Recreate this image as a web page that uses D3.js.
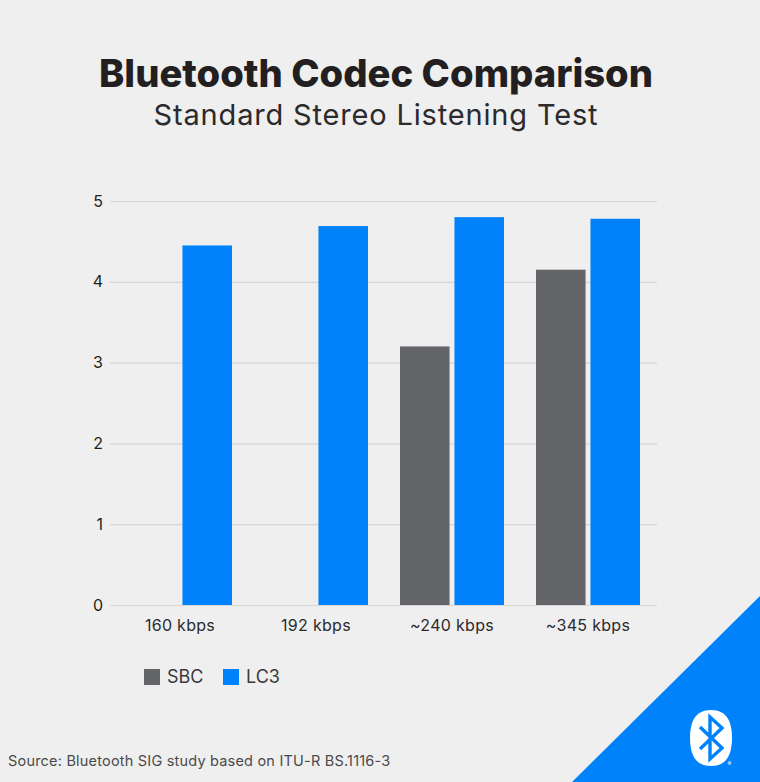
<!DOCTYPE html>
<html>
<head>
<meta charset="utf-8">
<script src="https://cdn.jsdelivr.net/npm/d3@7"></script>
<style>
  html, body { margin: 0; padding: 0; background: #efefef; }
  svg { display: block; }
</style>
</head>
<body>
<div id="chart"></div>
<script>
// values
var categories = ["160 kbps", "192 kbps", "~240 kbps", "~345 kbps"];
var seriesNames = ["SBC", "LC3"];
var sbcValues = [null, null, 3.2, 4.15];
var lc3Values = [4.45, 4.69, 4.8, 4.78];
var yTicks = [0, 1, 2, 3, 4, 5];

var width = 760, height = 782,
  plotLeft = 110, plotRight = 657, plotTop = 201, plotBottom = 605,
  fontFamily = "Inter, Lato, sans-serif",
  colors = { SBC: "#646569", LC3: "#0082fc" };

var svg = d3.select("#chart").append("svg")
  .attr("width", width).attr("height", height);

svg.append("rect")
  .attr("width", width).attr("height", height)
  .attr("fill", "#efefef");

// titles
svg.append("text")
  .attr("x", 376).attr("y", 87)
  .attr("text-anchor", "middle")
  .attr("font-family", fontFamily).attr("font-weight", 800)
  .attr("font-size", 38.2).attr("fill", "#231f20")
  .text("Bluetooth Codec Comparison");

svg.append("text")
  .attr("x", 376).attr("y", 125)
  .attr("text-anchor", "middle")
  .attr("font-family", fontFamily).attr("font-weight", 400)
  .attr("font-size", 29).attr("letter-spacing", 0.83).attr("fill", "#2b2a2c")
  .text("Standard Stereo Listening Test");

// scales
var x = d3.scaleBand().domain(categories).range([112, 656]);
var xInner = d3.scaleBand().domain(seriesNames)
  .range([x.bandwidth() / 2 - 52, x.bandwidth() / 2 + 52])
  .paddingInner(0.09).paddingOuter(0);
var y = d3.scaleLinear().domain([0, 5]).range([plotBottom, plotTop]);

// y axis + gridlines
var yAxis = svg.append("g")
  .attr("transform", "translate(" + plotLeft + ",0)")
  .call(d3.axisLeft(y).tickValues(yTicks).tickSize(-(plotRight - plotLeft)).tickPadding(7).tickFormat(d3.format("d")));
yAxis.select(".domain").remove();
yAxis.selectAll("line").attr("stroke", "#d6d6d6").attr("stroke-width", 1.2);
yAxis.selectAll("text")
  .attr("font-family", fontFamily).attr("font-size", 16).attr("font-weight", 400)
  .attr("fill", "#231f20");

// x axis
var xAxis = svg.append("g")
  .attr("transform", "translate(0," + plotBottom + ")")
  .call(d3.axisBottom(x).tickSize(0).tickPadding(15));
xAxis.select(".domain").remove();
xAxis.selectAll("text")
  .attr("font-family", fontFamily).attr("font-size", 16).attr("font-weight", 400)
  .attr("letter-spacing", 0.3)
  .attr("fill", "#2b2a2c");

// bars
var seriesValues = { SBC: sbcValues, LC3: lc3Values };
seriesNames.forEach(function (name) {
  var rows = categories.map(function (c, i) { return { c: c, v: seriesValues[name][i] }; })
    .filter(function (d) { return d.v !== null; });
  svg.append("g").selectAll("rect")
    .data(rows)
    .join("rect")
    .attr("x", function (d) { return x(d.c) + xInner(name); })
    .attr("y", function (d) { return y(d.v); })
    .attr("width", xInner.bandwidth())
    .attr("height", function (d) { return plotBottom - y(d.v); })
    .attr("fill", colors[name]);
});

// legend
var legendX = d3.scaleOrdinal().domain(seriesNames).range([144, 223]);
var legend = svg.append("g").selectAll("g")
  .data(seriesNames)
  .join("g")
  .attr("transform", function (d) { return "translate(" + legendX(d) + ",669)"; });
legend.append("rect")
  .attr("width", 16).attr("height", 16)
  .attr("fill", function (d) { return colors[d]; });
legend.append("text")
  .attr("x", 23).attr("y", 14)
  .attr("font-family", fontFamily).attr("font-size", 18).attr("font-weight", 400)
  .attr("fill", "#3a3a3c")
  .text(function (d) { return d; });

// source
svg.append("text")
  .attr("x", 8).attr("y", 766)
  .attr("font-family", fontFamily).attr("font-size", 14.5).attr("letter-spacing", 0.2)
  .attr("fill", "#4a4a4c")
  .text("Source: Bluetooth SIG study based on ITU-R BS.1116-3");

// corner triangle
svg.append("path")
  .attr("d", "M572,782L760,596V782Z")
  .attr("fill", colors.LC3);

// bluetooth mark
var logo = svg.append("g").attr("transform", "translate(711,738)");
logo.append("path")
  .attr("d", "M0,-28C16,-28 21,-16 21,0C21,16 16,28 0,28C-16,28 -21,16 -21,0C-21,-16 -16,-28 0,-28Z")
  .attr("fill", "#fff");
logo.append("path")
  .attr("d", "M-11,-11L11,10L-1,21V-21L11,-10L-11,11")
  .attr("fill", "none")
  .attr("stroke", colors.LC3).attr("stroke-width", 3.4);
logo.append("circle")
  .attr("cx", 18.5).attr("cy", 25).attr("r", 2)
  .attr("fill", "#8cc4ff");
</script>
</body>
</html>
